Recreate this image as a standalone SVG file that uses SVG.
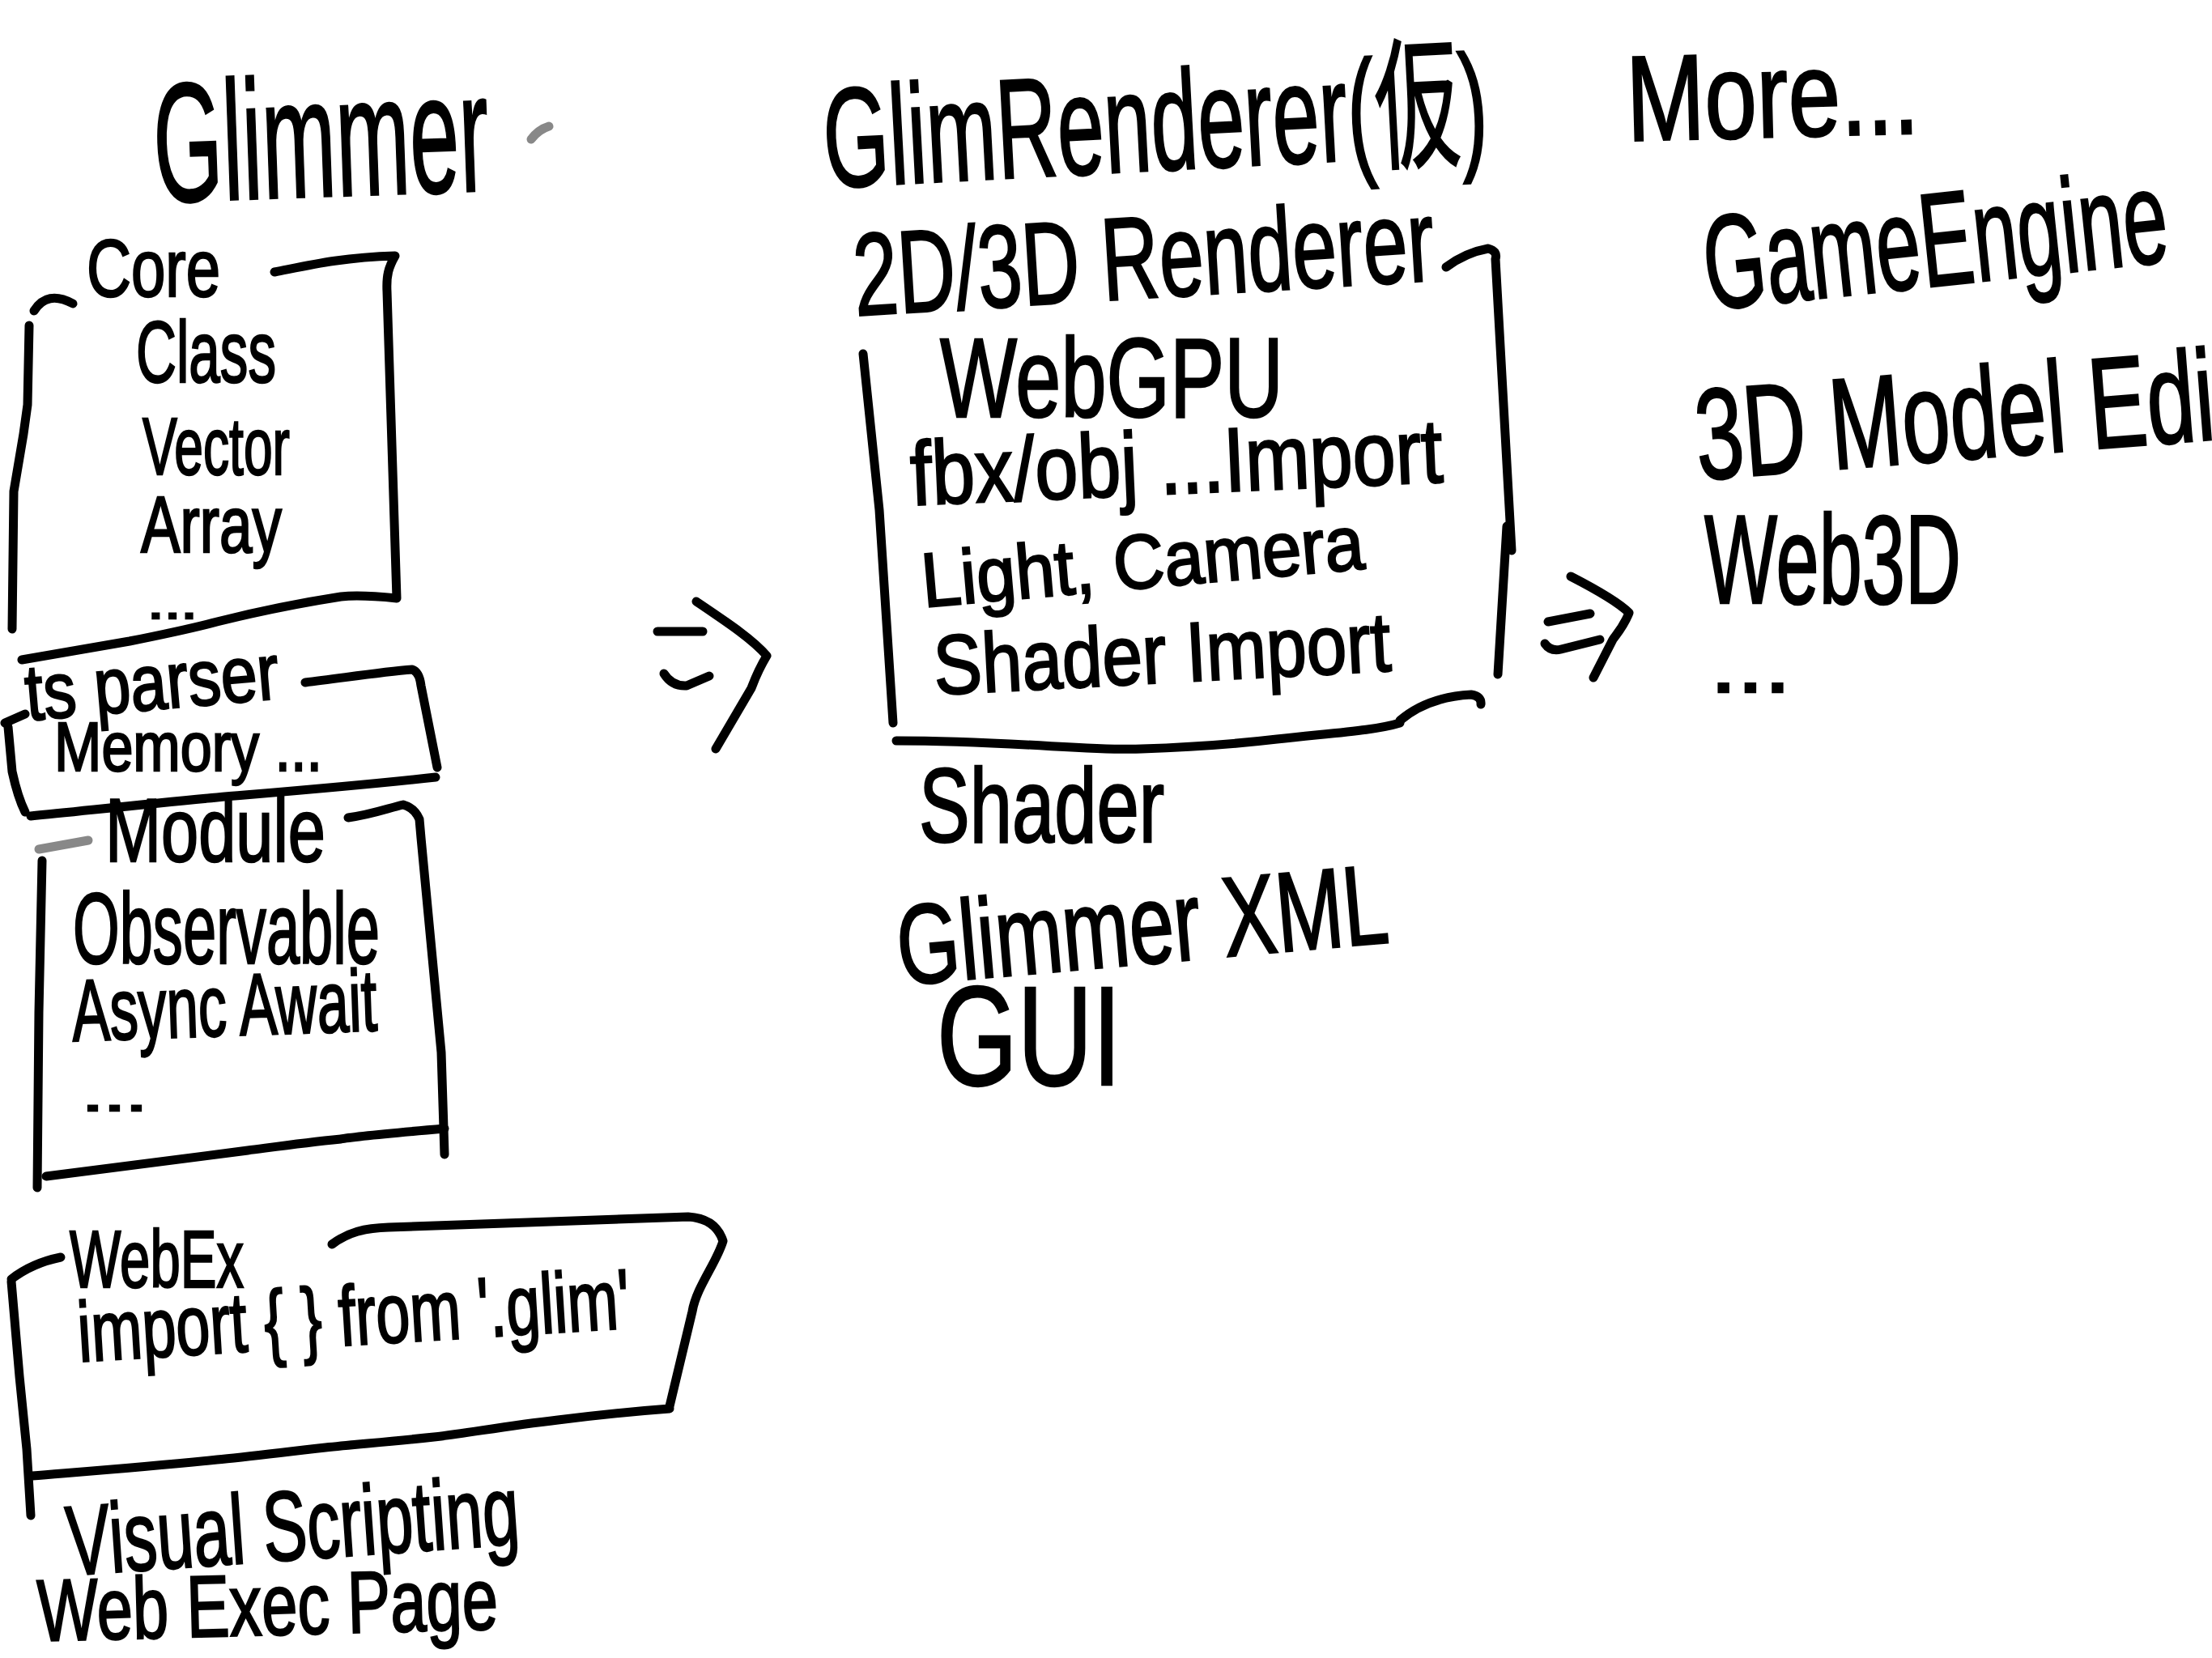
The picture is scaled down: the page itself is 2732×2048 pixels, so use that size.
<svg xmlns="http://www.w3.org/2000/svg" width="2732" height="2048" viewBox="0 0 2732 2048">
<style>
.s{fill:none;stroke:#000;stroke-width:11;stroke-linecap:round;stroke-linejoin:round}
.lt{stroke:#888}
text{font-family:"Liberation Sans","Noto Sans CJK JP",sans-serif;font-weight:400;fill:#000;stroke:#000;stroke-width:2.5}
</style>
<rect width="2732" height="2048" fill="#fff"/>

<g id="glimmer-title">
<text x="192" y="250" font-size="210" textLength="414" lengthAdjust="spacingAndGlyphs" transform="rotate(-2 192 250)">Glimmer</text>
<path class="s lt" d="M656,172 Q665,160 678,156"/>
</g>

<g id="core">
<path class="s" d="M42,384 Q58,358 90,375"/>
<path class="s" d="M36,402 L34,500 L29,536 L17,607 L15,777"/>
<path class="s" d="M339,336 C380,328 420,318 488,316 C480,330 477,340 478,360 L490,739 C460,736 440,735 421,737 C350,748 300,760 268,768 C230,778 200,784 160,792 L27,815"/>
<text x="107" y="366" font-size="100" textLength="165" lengthAdjust="spacingAndGlyphs">Core</text>
<text x="168" y="472" font-size="108" textLength="173" lengthAdjust="spacingAndGlyphs">Class</text>
<text x="176" y="586" font-size="100" textLength="182" lengthAdjust="spacingAndGlyphs">Vector</text>
<text x="174" y="682" font-size="98" textLength="174" lengthAdjust="spacingAndGlyphs">Array</text>
<text x="182" y="764" font-size="60" textLength="62" lengthAdjust="spacingAndGlyphs">...</text>
</g>

<g id="ts-parser">
<path class="s" d="M6,893 L31,882"/>
<path class="s" d="M10,898 L15,953 Q22,985 31,1003"/>
<path class="s" d="M377,843 C420,838 470,830 509,827 Q518,830 520,847 L540,948"/>
<path class="s" d="M538,960 C450,970 350,978 268,985 C180,993 100,1002 38,1008"/>
<text x="34" y="890" font-size="98" textLength="314" lengthAdjust="spacingAndGlyphs" transform="rotate(-5 34 890)">ts parser</text>
<text x="67" y="952" font-size="86" textLength="331" lengthAdjust="spacingAndGlyphs">Memory ...</text>
</g>

<g id="module">
<path class="s lt" d="M48,1049 L109,1038"/>
<path class="s" d="M430,1010 C460,1006 480,998 498,994 Q512,998 518,1012 L520,1035 L545,1300 L549,1426"/>
<path class="s" d="M52,1063 L48,1250 L46,1467"/>
<path class="s" d="M549,1394 C480,1400 430,1405 421,1407 C370,1412 330,1418 306,1421 C200,1435 120,1445 57,1453"/>
<text x="130" y="1064" font-size="112" textLength="272" lengthAdjust="spacingAndGlyphs">Module</text>
<text x="90" y="1190" font-size="124" textLength="379" lengthAdjust="spacingAndGlyphs">Observable</text>
<text x="90" y="1286" font-size="108" textLength="377" lengthAdjust="spacingAndGlyphs" transform="rotate(-2 90 1286)">Async Await</text>
<text x="101" y="1372" font-size="60" textLength="81" lengthAdjust="spacingAndGlyphs">...</text>
</g>

<g id="webex">
<path class="s" d="M14,1580 Q40,1560 75,1553"/>
<path class="s" d="M14,1583 L24,1700 L33,1790 L38,1872"/>
<path class="s" d="M410,1537 C430,1522 450,1517 480,1516 C600,1512 750,1506 850,1503 Q884,1505 893,1533 C885,1560 860,1590 855,1620 L827,1737"/>
<path class="s" d="M827,1740 C760,1745 720,1750 689,1754 C620,1762 580,1770 536,1775 C480,1781 440,1784 402,1788 C340,1795 300,1800 268,1803 C180,1812 100,1818 40,1823"/>
<text x="86" y="1590" font-size="100" textLength="215" lengthAdjust="spacingAndGlyphs">WebEx</text>
<text x="98" y="1682" font-size="105" textLength="683" lengthAdjust="spacingAndGlyphs" transform="rotate(-3.5 98 1682)">import { } from '.glim'</text>
</g>

<g id="visual-scripting">
<text x="85" y="1946" font-size="122" textLength="560" lengthAdjust="spacingAndGlyphs" transform="rotate(-4 85 1946)">Visual Scripting</text>
<text x="47" y="2027" font-size="108" textLength="569" lengthAdjust="spacingAndGlyphs" transform="rotate(-1.5 47 2027)">Web Exec Page</text>
</g>

<g id="glim-renderer-title">
<text x="1020" y="232" font-size="175" textLength="821" lengthAdjust="spacingAndGlyphs" transform="rotate(-3 1020 232)">GlimRenderer(仮)</text>
</g>

<g id="renderer">
<path class="s" d="M1066,437 L1086,630 L1103,893"/>
<path class="s" d="M1786,330 Q1810,312 1838,307 Q1850,310 1847,320 L1867,680"/>
<path class="s" d="M1861,650 L1850,833"/>
<path class="s" d="M1729,890 C1750,872 1780,860 1817,858 Q1830,860 1829,870"/>
<path class="s" d="M1107,915 C1250,915 1350,928 1410,925 C1500,922 1560,915 1577,913 C1650,905 1700,902 1729,893"/>
<text x="1057" y="390" font-size="145" textLength="718" lengthAdjust="spacingAndGlyphs" transform="rotate(-3.5 1057 390)">2D/3D Renderer</text>
<text x="1161" y="515" font-size="140" textLength="424" lengthAdjust="spacingAndGlyphs">WebGPU</text>
<text x="1126" y="624" font-size="112" textLength="658" lengthAdjust="spacingAndGlyphs" transform="rotate(-2.5 1126 624)">fbx/obj ...Import</text>
<text x="1141" y="750" font-size="95" textLength="548" lengthAdjust="spacingAndGlyphs" transform="rotate(-5 1141 750)">Light, Camera</text>
<text x="1155" y="858" font-size="104" textLength="565" lengthAdjust="spacingAndGlyphs" transform="rotate(-3 1155 858)">Shader Import</text>
</g>

<g id="shader">
<text x="1135" y="1040" font-size="130" textLength="303" lengthAdjust="spacingAndGlyphs">Shader</text>
</g>

<g id="glimmer-xml">
<text x="1112" y="1217" font-size="140" textLength="608" lengthAdjust="spacingAndGlyphs" transform="rotate(-5 1112 1217)">Glimmer XML</text>
<text x="1157" y="1340" font-size="175" textLength="228" lengthAdjust="spacingAndGlyphs">GUI</text>
</g>

<g id="more">
<text x="2010" y="174" font-size="150" textLength="361" lengthAdjust="spacingAndGlyphs" transform="rotate(-1.5 2010 174)">More...</text>
<text x="2110" y="383" font-size="165" textLength="575" lengthAdjust="spacingAndGlyphs" transform="rotate(-6 2110 383)">GameEngine</text>
<text x="2098" y="593" font-size="160" textLength="767" lengthAdjust="spacingAndGlyphs" transform="rotate(-4.5 2098 593)">3D Model Editor</text>
<text x="2105" y="745" font-size="155" textLength="317" lengthAdjust="spacingAndGlyphs">Web3D</text>
<text x="2112" y="855" font-size="100" textLength="100" lengthAdjust="spacingAndGlyphs">...</text>
</g>

<g id="connectors">
<path class="s" d="M812,780 L868,780"/>
<path class="s" d="M820,832 Q830,848 848,847 L876,835"/>
<path class="s" d="M860,743 C900,770 930,790 947,810 C935,830 930,845 928,850 L884,925"/>
<path class="s" d="M1912,768 L1964,758"/>
<path class="s" d="M1908,795 Q1915,805 1928,802 L1976,790"/>
<path class="s" d="M1940,712 C1975,730 2000,745 2012,757 C2005,775 1995,785 1992,790 L1968,837"/>
</g>
</svg>
